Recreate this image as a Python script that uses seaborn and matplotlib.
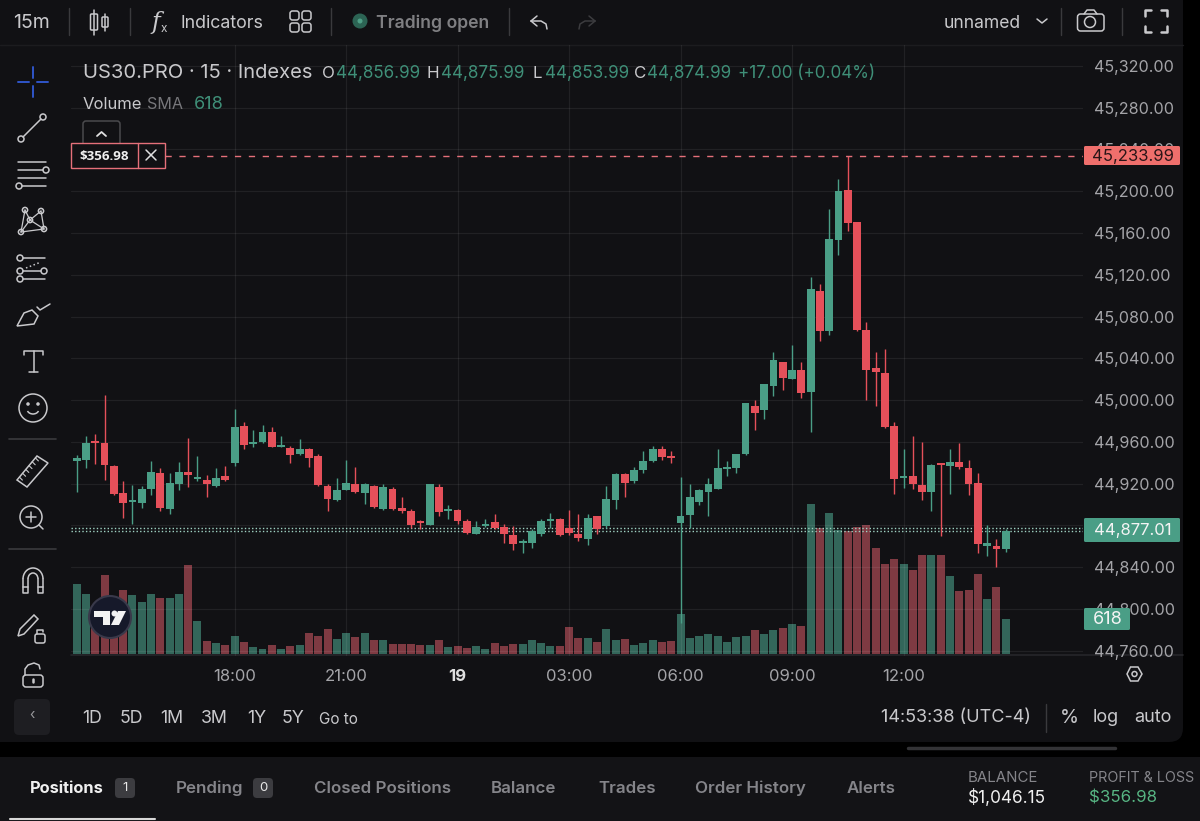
import matplotlib
matplotlib.use("Agg")
import matplotlib.pyplot as plt
import numpy as np
import pandas as pd
import seaborn as sns
from matplotlib.patches import Circle, FancyBboxPatch, Polygon, Rectangle, Arc

# 15m candles, values
opens = [44942, 44943, 44960, 44959, 44937, 44911, 44902, 44901, 44915, 44930, 44896, 44920, 44931, 44924, 44923, 44918, 44927,
         44940, 44975, 44958, 44960, 44969, 44955, 44954, 44948, 44953, 44946, 44918, 44904, 44914, 44920, 44911, 44918, 44896,
         44915, 44897, 44894, 44884, 44880, 44917, 44894, 44895, 44884, 44872, 44879, 44883, 44878, 44871, 44863, 44863, 44872,
         44884, 44886, 44877, 44872, 44867, 44889, 44879, 44904, 44929, 44922, 44933, 44942, 44953, 44945, 44882, 44890, 44902,
         44912, 44915, 44934, 44935, 44948, 44994, 44990, 45013, 45036, 45020, 45029, 45008, 45104, 45066, 45153, 45201, 45171,
         45067, 45031, 45026, 44975, 44925, 44927, 44919, 44912, 44939, 44937, 44941, 44935, 44921, 44860, 44860, 44856.99]
highs = [44947, 44966, 44967, 45005, 44938, 44922, 44919, 44918, 44942, 44935, 44930, 44941, 44964, 44946, 44928, 44935, 44937,
         44991, 44979, 44971, 44976, 44974, 44966, 44956, 44963, 44954, 44948, 44920, 44925, 44943, 44936, 44921, 44919, 44920,
         44917, 44907, 44896, 44885, 44920, 44920, 44899, 44896, 44886, 44884, 44886, 44891, 44881, 44879, 44867, 44876, 44886,
         44892, 44887, 44895, 44891, 44891, 44889, 44918, 44930, 44930, 44936, 44951, 44956, 44956, 44951, 44926, 44920, 44915,
         44925, 44953, 44942, 44948, 44997, 45000, 45015, 45046, 45036, 45053, 45036, 45118, 45111, 45183, 45212, 45234, 45171,
         45075, 45046, 45049, 44979, 44953, 44966, 44960, 44939, 44940, 44953, 44959, 44943, 44930, 44880, 44867, 44875.99]
lows = [44912, 44935, 44939, 44923, 44909, 44887, 44881, 44897, 44909, 44894, 44891, 44914, 44917, 44922, 44907, 44917, 44922,
        44937, 44953, 44955, 44959, 44955, 44955, 44940, 44947, 44936, 44918, 44894, 44903, 44914, 44911, 44900, 44897, 44895,
        44895, 44892, 44877, 44876, 44880, 44889, 44886, 44881, 44872, 44872, 44878, 44876, 44863, 44856, 44853, 44858, 44870,
        44877, 44870, 44871, 44865, 44861, 44872, 44877, 44896, 44907, 44921, 44930, 44941, 44943, 44940, 44786, 44877, 44899,
        44889, 44915, 44927, 44930, 44947, 44971, 44982, 45004, 45010, 45020, 45002, 44969, 45057, 45062, 45139, 45162, 45066,
        45000, 44994, 44973, 44910, 44916, 44915, 44904, 44894, 44870, 44910, 44934, 44909, 44853, 44851, 44840, 44853.99]
closes = [44944, 44959, 44959, 44938, 44910, 44901, 44903, 44915, 44931, 44897, 44921, 44931, 44928, 44925, 44920, 44925, 44923,
          44974, 44957, 44959, 44969, 44955, 44956, 44947, 44953, 44944, 44919, 44905, 44914, 44921, 44912, 44920, 44898, 44917,
          44896, 44894, 44880, 44882, 44920, 44893, 44895, 44884, 44873, 44878, 44881, 44877, 44872, 44862, 44864, 44875, 44884,
          44886, 44871, 44873, 44868, 44887, 44876, 44905, 44929, 44921, 44933, 44942, 44953, 44945, 44944, 44889, 44907, 44914,
          44920, 44935, 44935, 44948, 44997, 44988, 45015, 45038, 45021, 45029, 45007, 45106, 45066, 45154, 45200, 45170, 45067,
          45029, 45027, 44974, 44924, 44926, 44920, 44912, 44938, 44938, 44941, 44936, 44920, 44862, 44863, 44857, 44874.99]
volumes = [1224, 1050, 717, 1382, 950, 1119, 1038, 909, 1061, 991, 979, 1061, 1568, 583, 233, 198, 163,
           315, 210, 134, 93, 163, 93, 152, 163, 367, 326, 437, 274, 367, 303, 367, 245, 245,
           175, 187, 187, 163, 163, 251, 122, 146, 111, 140, 99, 192, 140, 175, 187, 257, 198,
           140, 140, 472, 280, 292, 210, 449, 257, 268, 157, 198, 257, 222, 233, 700, 280, 315,
           350, 315, 222, 303, 326, 420, 361, 420, 461, 525, 496, 2629, 2215, 2466, 2169, 2163, 2221,
           2256, 1866, 1574, 1662, 1574, 1475, 1743, 1743, 1732, 1370, 1108, 1125, 1399, 968, 1183, 618]

price_ticks = [45320, 45280, 45240, 45200, 45160, 45120, 45080, 45040, 45000, 44960, 44920, 44880, 44840, 44800, 44760]
time_pos = [17, 29, 41, 53, 65, 77, 89]
time_labels = ["18:00", "21:00", "19", "03:00", "06:00", "09:00", "12:00"]

GREEN, RED = "#4a9e86", "#e5505a"
VOL_GREEN, VOL_RED = "#33665a", "#7e3a42"
PANEL, TEXT, DIM = "#111114", "#c9c9cc", "#77777b"

df = pd.DataFrame({"i": range(len(opens)), "o": opens, "h": highs, "l": lows, "c": closes, "vol": volumes})
df["up"] = df["c"] >= df["o"]

sns.set_theme(style="dark")
plt.rcParams["font.family"] = ["Inter", "DejaVu Sans"]

W, H = 1200, 821
fig = plt.figure(figsize=(12, 8.21), dpi=100, facecolor="black")


def rect_of(x0, y0, x1, y1):
    return [x0 / W, 1 - y1 / H, (x1 - x0) / W, (y1 - y0) / H]


def overlay(z):
    a = fig.add_axes([0, 0, 1, 1], zorder=z)
    a.set_xlim(0, W)
    a.set_ylim(H, 0)
    a.axis("off")
    return a


bg = overlay(0)
ui = overlay(3)

# panels
bg.add_patch(FancyBboxPatch((-20, -20), 1203, 762, boxstyle="round,pad=0,rounding_size=14", fc=PANEL, ec="none"))
bg.add_patch(FancyBboxPatch((-20, 757), 1240, 100, boxstyle="round,pad=0,rounding_size=12", fc="#131316", ec="none"))
bg.plot([0, 1183], [45, 45], color="#1c1c1f", lw=1)
bg.plot([71, 1183], [655.5, 655.5], color="#26262a", lw=1.2)
bg.plot([908, 1115], [748.5, 748.5], color="#333336", lw=2.5)

# volume
x_lim = ((71 - 76.7) / 9.29, (1083 - 76.7) / 9.29)
vol = fig.add_axes(rect_of(71, 45, 1083, 656), zorder=1)
sns.barplot(data=df, x="i", y="vol", hue="up", palette={True: VOL_GREEN, False: VOL_RED}, native_scale=True,
            dodge=False, width=0.86, saturation=1, errorbar=None, legend=False, linewidth=0, edgecolor="none", ax=vol)
vol.set_xlim(x_lim)
vol.set_ylim(-30, 10663)
vol.axis("off")

# candles
ax = fig.add_axes(rect_of(71, 45, 1083, 656), zorder=2)
ax.patch.set_visible(False)
colors = np.where(df["up"], GREEN, RED)
ax.vlines(df["i"], df["l"], df["h"], colors=colors, lw=1.0, zorder=3)
heights = np.maximum((df["c"] - df["o"]).abs(), 2.0)
ax.bar(df["i"], heights, bottom=df[["o", "c"]].min(axis=1), width=0.84, color=colors, linewidth=0, zorder=3)
ax.set_xlim(x_lim)
ax.set_ylim(44754.8, 45340.1)
ax.set_yticks(price_ticks)
ax.set_yticklabels([f"{p:,.2f}" for p in price_ticks])
ax.set_xticks(time_pos)
ax.set_xticklabels(time_labels)
ax.yaxis.tick_right()
ax.tick_params(axis="y", length=0, pad=8, labelsize=11.6, labelcolor="#a4a4a8")
ax.tick_params(axis="x", length=0, pad=9, labelsize=12, labelcolor="#a4a4a8")
ax.get_xticklabels()[2].set_fontweight("bold")
ax.get_xticklabels()[2].set_color("#e0e0e0")
ax.grid(True, color="white", alpha=0.07, lw=0.9)
for s in ax.spines.values():
    s.set_visible(False)

# price lines
ax.axhline(45233.99, xmin=94 / 1012, color="#e5707a", lw=1, dashes=(4.5, 5.5), zorder=4)
ax.axhline(44877.01, color="#9fd2c2", lw=1, dashes=(1, 1.6), zorder=2)
ax.axhline(44874.99, color="#9fd2c2", lw=1, dashes=(1, 1.6), zorder=2)


def T(x, y, s, color=TEXT, size=11, ha="left", weight="normal", **kw):
    ui.text(x, y + 1.5, s, color=color, fontsize=size, ha=ha, va="center", fontweight=weight, **kw)


def L(xs, ys, color=TEXT, lw=1.1, **kw):
    ui.plot(xs, ys, color=color, lw=lw, solid_capstyle="round", **kw)


def C(x, y, r, ec=TEXT, fc="none", lw=1.1):
    ui.add_patch(Circle((x, y), r, ec=ec, fc=fc, lw=lw))


def box(x0, y0, x1, y1, ec=TEXT, fc="none", lw=1.1, r=2):
    ui.add_patch(FancyBboxPatch((x0, y0), x1 - x0, y1 - y0, boxstyle=f"round,pad=0,rounding_size={r}", ec=ec, fc=fc, lw=lw))


# top bar
T(13, 22, "15m", size=14)
for sx in [69, 130, 331, 509, 1061, 1122]:
    L([sx, sx], [8, 35], color="#3a3a3d", lw=1)
L([94, 94], [10, 35]); box(90.5, 14, 97.5, 30, r=1)
L([105, 105], [14, 31]); box(102, 17, 108, 27, r=1)
T(151, 21, "f", size=17, style="italic", family="DejaVu Serif")
T(161, 28, "x", size=8.5)
T(181, 22, "Indicators", size=12.8)
for sx, sy in [(290, 11), (302, 11), (290, 23), (302, 23)]:
    box(sx, sy, sx + 9, sy + 9, r=2.5)
C(360, 21, 7.5, ec="none", fc="#2c6454")
C(360, 21, 2.5, ec="none", fc="#4f9f86")
T(376, 22, "Trading open", color="#7f7f82", size=12.7, weight="semibold")
L([531, 537, 537], [21, 16, 16]); L([531, 537], [21, 26]); L([531, 541, 546, 547], [21, 21, 24, 29])
L([595, 589], [21, 16], color="#3c3c3f"); L([595, 589], [21, 26], color="#3c3c3f"); L([595, 585, 580, 579], [21, 21, 24, 29], color="#3c3c3f")
T(944, 22, "unnamed", size=12.6)
L([1037, 1042, 1047], [19, 23, 19])
box(1077.5, 14, 1104, 31, r=3); L([1084, 1087, 1094, 1097], [14, 10, 10, 14]); C(1090, 22, 5.5)
for cx, cy, dx, dy in [(1145, 10, 1, 1), (1167, 10, -1, 1), (1145, 32, 1, -1), (1167, 32, -1, -1)]:
    L([cx + dx * 6, cx, cx], [cy, cy, cy + dy * 6], lw=1.8)

# legend text
T(83, 72, "US30.PRO · 15 · Indexes", size=14.5)
leg_green = "#3f8f78"
for lx, vx, k, v in [(322, 336, "O", "44,856.99"), (427, 441, "H", "44,875.99"), (532, 545, "L", "44,853.99"), (634, 647, "C", "44,874.99")]:
    T(lx, 72, k, size=12.2)
    T(vx, 72, v, color=leg_green, size=12.3)
T(738, 72, "+17.00 (+0.04%)", color=leg_green, size=12.3)
T(83, 103, "Volume", size=12)
T(147, 103, "SMA", color=DIM, size=11.6)
T(194, 103, "618", color=leg_green, size=13)

# close button on position line
box(83, 121, 120, 146, ec="#4a4a4d", fc=PANEL, r=3)
L([97, 101.5, 106], [136, 132, 136], color="#e0e0e0", lw=1.3)
ui.add_patch(Rectangle((71, 143), 94, 25, ec="#e5707a", fc=PANEL, lw=1))
L([138, 138], [143, 168], color="#e5707a", lw=1)
T(104.5, 155, "$356.98", color="#f0f0f0", size=9.6, ha="center", weight="bold", family="Open Sans")
L([146, 156], [150, 160], color="#e0e0e0"); L([146, 156], [160, 150], color="#e0e0e0")

# price tags
box(1084, 146, 1180, 165, ec="none", fc="#ef6f6c", r=1.5)
T(1133, 154.5, "45,233.99", color="#2a1517", size=12, ha="center")
box(1084, 518, 1180, 542, ec="none", fc=GREEN, r=1.5)
T(1133, 528.5, "44,877.01", color="#f4f4f4", size=12, ha="center")
box(1084, 608, 1130, 630, ec="none", fc=GREEN, r=1.5)
T(1108, 618, "618", color="#f4f4f4", size=13, ha="center")

# TV logo
C(110, 617, 21, ec="#39394a", fc="#16192a", lw=1.5)
ui.add_patch(Polygon([(94, 611), (110, 611), (110, 625), (103, 625), (103, 617), (94, 617)], fc="#f2f2f2", ec="none"))
C(114.5, 613.5, 3, ec="none", fc="#f2f2f2")
ui.add_patch(Polygon([(118, 611), (126, 611), (119, 625), (111, 625)], fc="#f2f2f2", ec="none"))

# left tool bar
blue = "#2f55c9"
for a, b in [((18, 82), (29, 82)), ((37, 82), (48, 82)), ((33, 67), (33, 78)), ((33, 86), (33, 97))]:
    L([a[0], b[0]], [a[1], b[1]], color=blue, lw=1.4)
L([23, 41], [137, 119]); C(21, 139, 3); C(43, 117, 3)
L([18, 46], [162, 162]); L([18, 43], [170, 170]); C(46, 170, 3); L([18, 46], [178, 178]); L([22, 46], [186, 186]); C(19, 186, 3)
nodes = [(25, 210), (41, 211), (30, 220), (21, 232), (44, 229)]
for a, b in [(0, 2), (1, 2), (2, 3), (2, 4), (0, 3), (1, 4), (3, 4)]:
    L([nodes[a][0], nodes[b][0]], [nodes[a][1], nodes[b][1]], lw=0.9)
for n in nodes:
    C(n[0], n[1], 2.6, fc=PANEL)
C(20, 258, 3); L([23, 45], [258, 258]); C(20, 271, 3); C(44, 271, 3); L([23, 41], [271, 271]); C(20, 279, 3); L([23, 45], [279, 279])
L([26, 41], [268, 262], ls=":")
ui.add_patch(Polygon([(17, 326), (24, 313), (32, 310), (38, 316), (34, 324)], ec=TEXT, fc="none", lw=1.1))
L([37, 40, 50], [307, 310, 304])
L([24, 24, 43, 43], [355, 351, 351, 355]); L([33.5, 33.5], [351, 372]); L([29, 38], [372, 372])
C(33, 408, 14); C(28, 404, 1, fc=TEXT); C(38, 404, 1, fc=TEXT)
ui.add_patch(Arc((33, 409), 12, 10, theta1=20, theta2=160, ec=TEXT, lw=1.1))
L([9, 56], [439, 439], color="#3a3a3d", lw=1.2)
ui.add_patch(Polygon([(17, 480), (37, 456), (48, 463), (27, 487)], ec=TEXT, fc="none", lw=1.1))
for k in np.arange(0.12, 0.95, 0.16):
    xa, ya = 17 + 20 * k, 480 - 24 * k
    L([xa, xa + 3], [ya, ya + 3], lw=0.8)
C(31, 517, 11); L([39, 43], [525, 529]); L([26, 36], [517, 517]); L([31, 31], [512, 522])
L([9, 56], [549, 549], color="#3a3a3d", lw=1.2)
ui.add_patch(Arc((33, 579), 20, 22, theta1=180, theta2=360, ec=TEXT, lw=1.1))
ui.add_patch(Arc((33, 579), 10, 12, theta1=180, theta2=360, ec=TEXT, lw=1.1))
L([23, 23, 28, 28], [579, 593, 593, 579]); L([38, 38, 43, 43], [579, 593, 593, 579]); L([23, 28], [587, 587]); L([38, 43], [587, 587])
ui.add_patch(Polygon([(18, 636), (20, 629), (34, 615), (38, 619), (24, 634)], ec=TEXT, fc="none", lw=1.1))
box(35, 634, 45, 643); L([37, 37, 43, 43], [634, 630, 630, 632])
box(23, 675, 43, 687, r=3); L([25, 25, 28, 34, 39, 40], [675, 669, 665, 663, 665, 669]); L([33, 33], [679, 682], lw=1.8)

# bottom of the chart
ui.add_patch(Polygon([(1127, 674), (1130.5, 667), (1138, 667), (1142, 674), (1138, 681), (1130.5, 681)], ec=TEXT, fc="none", lw=1.1))
C(1134.5, 674, 2.5)
box(14, 699, 50, 735, ec="none", fc="#1e1e22", r=5)
T(32, 714, "‹", color="#9a9a9d", size=10, ha="center")
for tx, s in [(92, "1D"), (131, "5D"), (172, "1M"), (214, "3M"), (257, "1Y"), (293, "5Y")]:
    T(tx, 717, s, size=12.8, ha="center")
T(338, 718, "Go to", size=11, ha="center")
T(881, 716.5, "14:53:38 (UTC-4)", size=13)
L([1046, 1046], [704, 732], color="#3a3a3d", lw=1)
T(1069, 716.5, "%", size=14, ha="center")
T(1106, 716.5, "log", size=13, ha="center")
T(1153, 716.5, "auto", size=13, ha="center")

# positions bar
T(30, 787, "Positions", color="#f0f0f0", size=11.8, weight="bold")
box(115, 778, 135, 798, ec="none", fc="#3c3c40", r=4)
T(125, 786.5, "1", color="#e8e8e8", size=9.5, ha="center")
T(176, 787, "Pending", color="#85858a", size=12.2, weight="semibold")
box(253, 778, 273, 798, ec="none", fc="#3c3c40", r=4)
T(263, 786.5, "0", color="#e8e8e8", size=9.5, ha="center")
for tx, s in [(314, "Closed Positions"), (491, "Balance"), (598, "Trades"), (695, "Order History"), (847, "Alerts")]:
    T(tx, 787, s, color="#85858a", size=12.2, weight="semibold")
L([10, 155], [819, 819], color="#d8d8d8", lw=1.5)
T(968, 777, "BALANCE", color="#85858a", size=10.8)
T(968, 797, "$1,046.15", color="#f0f0f0", size=12.4)
T(1089, 777, "PROFIT & LOSS", color="#85858a", size=10.3)
T(1089, 797, "$356.98", color="#57b583", size=12.2)

fig.savefig("out.png", dpi=100, facecolor="black")
